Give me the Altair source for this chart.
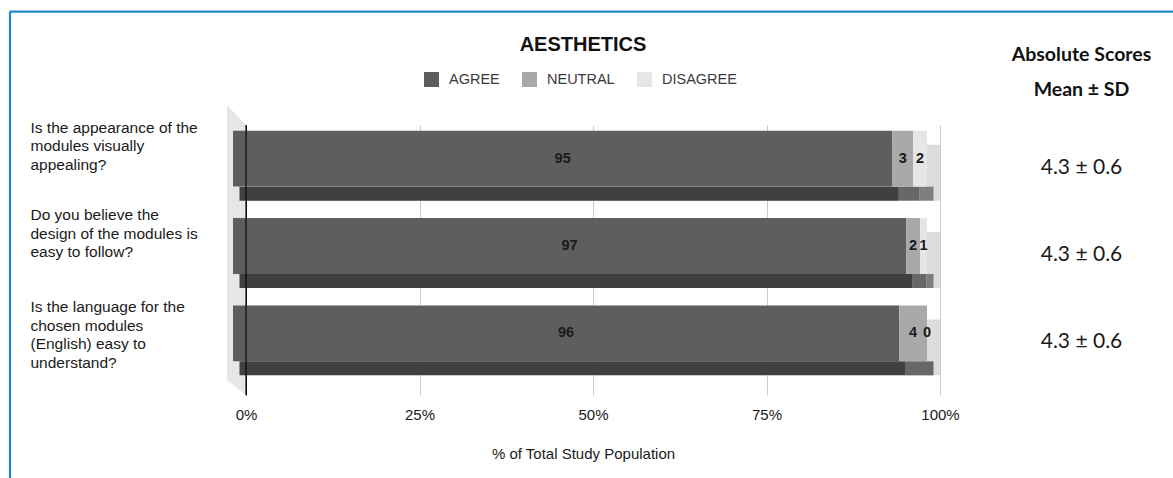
import altair as alt
import pandas as pd

# ---------------- data ----------------
questions = [
    "Is the appearance of the\nmodules visually\nappealing?",
    "Do you believe the\ndesign of the modules is\neasy to follow?",
    "Is the language for the\nchosen modules\n(English) easy to\nunderstand?",
]
responses = ["AGREE", "NEUTRAL", "DISAGREE"]
agree = [95, 97, 96]
neutral = [3, 2, 4]
disagree = [2, 1, 0]
score_mean = [4.3, 4.3, 4.3]
score_sd = [0.6, 0.6, 0.6]
x_ticks = [0, 25, 50, 75, 100]

rows = []
for qi, q in enumerate(questions):
    start = 0
    for r, v in zip(responses, [agree[qi], neutral[qi], disagree[qi]]):
        rows.append({"question": q, "response": r, "value": v,
                     "start": start, "end": start + v, "mid": start + v / 2})
        start += v
df = pd.DataFrame(rows)

scores_df = pd.DataFrame({
    "question": questions,
    "score": [f"{m:.1f} ± {s:.1f}" for m, s in zip(score_mean, score_sd)],
})

# ---------------- styles ----------------
W, H = 694, 270
front_colors = ["#5e5e5e", "#a9a9a9", "#e6e6e6"]
bottom_colors = ["#404040", "#676767", "#7e7e7e"]
side_color = "#dcdcdc"
FONT = "Liberation Sans"

y_enc = alt.Y(
    "question:N",
    scale=alt.Scale(domain=questions, paddingInner=0.36, paddingOuter=0.226),
    axis=alt.Axis(
        title=None, domain=False, ticks=False, tickSize=0, grid=False,
        labelAlign="left", labelBaseline="top", labelPadding=216,
        labelOffset={"condition": {"test": "datum.index == 1", "value": -47}, "value": -52},
        labelExpr="split(datum.label, '\\n')", labelLineHeight=18.5,
        labelFont=FONT, labelFontSize=15.5, labelColor="#1a1a1a", labelLimit=400,
    ),
)

x_scale = alt.Scale(domain=[0, 100], nice=False, zero=True)
x_axis = alt.Axis(
    title="% of Total Study Population", values=x_ticks,
    labelExpr="datum.value + '%'", domain=False, ticks=False, tickSize=0,
    grid=True, gridColor={"condition": {"test": "datum.value === 0", "value": "#111111"}, "value": "#cccccc"},
    gridWidth=1, labelFont=FONT, labelFontSize=15, labelColor="#1a1a1a", labelPadding=12,
    labelFlush=False,
    titleFont=FONT, titleFontSize=15, titleFontWeight="normal", titleColor="#1a1a1a",
    titlePadding=24, titleX=337,
)

base = alt.Chart(df)

# side wall at 0%
wall_path = "M-0.0655,-1 L0.0655,-0.862 L0.0655,1 L-0.0655,0.897 Z"
wall = base.transform_aggregate(n="count()").mark_point(
    shape=wall_path, size=84100, filled=True, opacity=1, strokeWidth=0,
    color="#e6e6e6", xOffset=-9.5,
).encode(x=alt.X(datum=0, scale=x_scale, axis=x_axis), y=alt.value(H / 2 - 10))

back = base.mark_bar(color=side_color).encode(
    x=alt.X("start:Q", scale=x_scale, axis=x_axis), x2="end:Q", y=y_enc)

bottom = base.mark_bar(size=14, yOffset=21, xOffset=-6.5, x2Offset=-6.5).encode(
    x=alt.X("start:Q", scale=x_scale, axis=x_axis), x2="end:Q", y=y_enc,
    color=alt.Color("response:N", scale=alt.Scale(domain=responses, range=bottom_colors), legend=None),
)

front = base.mark_bar(yOffset=-14, xOffset=-13, x2Offset=-13).encode(
    x=alt.X("start:Q", scale=x_scale, axis=x_axis), x2="end:Q", y=y_enc,
    color=alt.Color(
        "response:N", scale=alt.Scale(domain=responses, range=front_colors),
        legend=alt.Legend(
            title=None, orient="none", legendX=178, legendY=-53, direction="horizontal",
            symbolType="square", symbolSize=225, symbolStrokeWidth=0, symbolOpacity=1,
            labelFont=FONT, labelFontSize=14.5, labelColor="#3a3a3a", labelOffset=10,
            columnPadding=22, padding=0,
        ),
    ),
)

labels = base.mark_text(
    font=FONT, fontSize=14.5, fontWeight="bold", color="#1a1a1a",
    xOffset=-13, yOffset=-14, baseline="middle", align="center",
).encode(x=alt.X("mid:Q", scale=x_scale, axis=x_axis), y=y_enc, text="value:Q")

zero_rule = base.transform_aggregate(n="count()").mark_rule(
    color="#000000", strokeWidth=1.3, opacity=0.85
).encode(x=alt.X(datum=0, scale=x_scale, axis=x_axis), y=alt.value(0), y2=alt.value(H))

scores = alt.Chart(scores_df).mark_text(
    font="Lato", fontSize=21, color="#1a1a1a", yOffset=-5, align="center", baseline="middle"
).encode(x=alt.value(835.5), y=y_enc, text="score:N")

hdr_style = dict(font="Lato", fontSize=19.5, fontWeight="bold", color="#111111",
                 align="center", baseline="middle")
header1 = alt.Chart(pd.DataFrame({"line": ["Absolute Scores"]})).mark_text(**hdr_style).encode(
    x=alt.value(835.5), y=alt.value(-70), text="line:N")
header2 = alt.Chart(pd.DataFrame({"line": ["Mean ± SD"]})).mark_text(**hdr_style).encode(
    x=alt.value(835.5), y=alt.value(-35), text="line:N")

title = alt.Chart(pd.DataFrame({"t": ["AESTHETICS"]})).mark_text(
    font=FONT, fontSize=20, fontWeight="bold", color="#111111", align="center", baseline="middle"
).encode(x=alt.value(337), y=alt.value(-80), text="t:N")

frame_col = "#2787c6"
frame_top = alt.Chart(pd.DataFrame({"a": [0]})).mark_rule(color=frame_col, strokeWidth=2.2).encode(
    x=alt.value(-236.5), x2=alt.value(930), y=alt.value(-113.3))
frame_left = alt.Chart(pd.DataFrame({"a": [0]})).mark_rule(color=frame_col, strokeWidth=2.2).encode(
    x=alt.value(-236), y=alt.value(-113.3), y2=alt.value(360))

chart = alt.layer(
    wall, back, bottom, front, labels, zero_rule, scores, header1, header2, title, frame_top, frame_left
).resolve_scale(color="independent").properties(
    width=W, height=H,
    autosize=alt.AutoSizeParams(type="none"),
    padding={"left": 246, "top": 125, "right": 233, "bottom": 83},
    background="white",
).configure_view(stroke=None)

chart.save("out.html", embed_options={"renderer": "svg", "actions": False})
